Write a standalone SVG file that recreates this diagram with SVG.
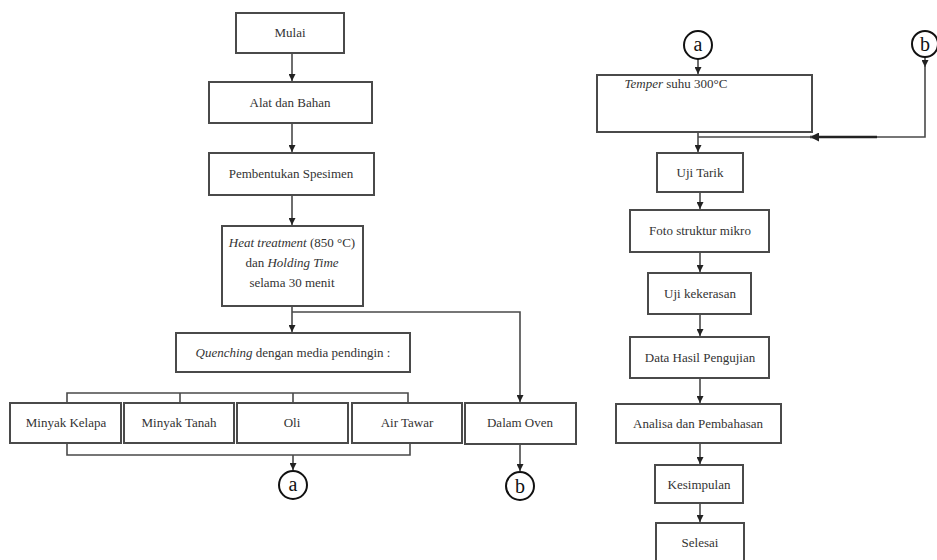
<svg xmlns="http://www.w3.org/2000/svg" width="937" height="560" viewBox="0 0 937 560">
<style>
.box{fill:#fff;stroke:#4a4a4a;stroke-width:2}
.ln{fill:none;stroke:#4a4a4a;stroke-width:1.6}
.t{font-family:"Liberation Serif","Times New Roman",serif;font-size:13px;fill:#333;text-anchor:middle}
.c{fill:#fff;stroke:#111;stroke-width:2}
.ct{font-family:"Liberation Serif","Times New Roman",serif;font-size:20px;fill:#111;text-anchor:middle}
</style>
<defs>
<marker id="ar" viewBox="0 0 10 10" refX="10" refY="5" markerWidth="7" markerHeight="7" markerUnits="userSpaceOnUse" orient="auto">
<path d="M0,0 L10,5 L0,10 z" fill="#222"/>
</marker>
<marker id="arL" viewBox="0 0 10 10" refX="10" refY="5" markerWidth="9" markerHeight="9" markerUnits="userSpaceOnUse" orient="auto">
<path d="M0,0 L10,5 L0,10 z" fill="#222"/>
</marker>
</defs>
<rect width="937" height="560" fill="#fff"/>

<g id="connectors">
<line class="ln" x1="292" y1="53" x2="292" y2="81" marker-end="url(#ar)"/>
<line class="ln" x1="292" y1="123" x2="292" y2="152" marker-end="url(#ar)"/>
<line class="ln" x1="292" y1="195" x2="292" y2="225" marker-end="url(#ar)"/>
<line class="ln" x1="292" y1="306" x2="292" y2="332" marker-end="url(#ar)"/>
<polyline class="ln" points="292,312 520,312 520,402" marker-end="url(#ar)"/>
<polyline class="ln" points="67,403 67,393 408,393 408,403"/>
<line class="ln" x1="180" y1="393" x2="180" y2="403"/>
<line class="ln" x1="293" y1="393" x2="293" y2="403"/>
<polyline class="ln" points="67,443 67,455 410,455 410,443"/>
<line class="ln" x1="293" y1="455" x2="293" y2="470" marker-end="url(#ar)"/>
<line class="ln" x1="520" y1="444" x2="520" y2="471" marker-end="url(#ar)"/>

<line class="ln" x1="698" y1="59" x2="698" y2="74" marker-end="url(#ar)"/>
<line class="ln" x1="925" y1="57" x2="925" y2="67" marker-end="url(#ar)"/>
<polyline class="ln" points="925,66 925,137 877,137"/>
<line x1="877" y1="137" x2="810" y2="137" stroke="#222" stroke-width="2.4" marker-end="url(#arL)"/>
<line class="ln" x1="812" y1="137" x2="698" y2="137"/>
<line class="ln" x1="698" y1="132" x2="698" y2="152" marker-end="url(#ar)"/>
<line class="ln" x1="700" y1="192" x2="700" y2="209" marker-end="url(#ar)"/>
<line class="ln" x1="700" y1="252" x2="700" y2="272" marker-end="url(#ar)"/>
<line class="ln" x1="700" y1="314" x2="700" y2="336" marker-end="url(#ar)"/>
<line class="ln" x1="700" y1="378" x2="700" y2="403" marker-end="url(#ar)"/>
<line class="ln" x1="700" y1="443" x2="700" y2="464" marker-end="url(#ar)"/>
<line class="ln" x1="700" y1="503" x2="700" y2="522" marker-end="url(#ar)"/>
</g>

<g id="mulai"><rect class="box" x="236" y="13" width="108" height="40"/><text class="t" x="290" y="37">Mulai</text></g>
<g id="alat"><rect class="box" x="209" y="82" width="163" height="41"/><text class="t" x="290" y="107">Alat dan Bahan</text></g>
<g id="pembentukan"><rect class="box" x="209" y="153" width="165" height="42"/><text class="t" x="291" y="178">Pembentukan Spesimen</text></g>
<g id="heat"><rect class="box" x="222" y="226" width="141" height="80"/>
<text class="t" x="292" y="247"><tspan font-style="italic">Heat treatment</tspan> (850 °C)</text>
<text class="t" x="292" y="267">dan <tspan font-style="italic">Holding Time</tspan></text>
<text class="t" x="292" y="287">selama 30 menit</text></g>
<g id="quenching"><rect class="box" x="176" y="333" width="234" height="39"/><text class="t" x="293" y="357"><tspan font-style="italic">Quenching</tspan> dengan media pendingin :</text></g>
<g id="minyak-kelapa"><rect class="box" x="10" y="403" width="111" height="40"/><text class="t" x="66" y="427">Minyak Kelapa</text></g>
<g id="minyak-tanah"><rect class="box" x="124" y="403" width="110" height="40"/><text class="t" x="179" y="427">Minyak Tanah</text></g>
<g id="oli"><rect class="box" x="237" y="403" width="111" height="40"/><text class="t" x="292" y="427">Oli</text></g>
<g id="air-tawar"><rect class="box" x="352" y="403" width="110" height="40"/><text class="t" x="407" y="427">Air Tawar</text></g>
<g id="dalam-oven"><rect class="box" x="465" y="403" width="111" height="41"/><text class="t" x="520" y="427">Dalam Oven</text></g>
<g id="a-left"><circle class="c" cx="293" cy="485" r="14"/><text class="ct" x="293" y="491">a</text></g>
<g id="b-left"><circle class="c" cx="520" cy="486" r="14"/><text class="ct" x="520" y="493">b</text></g>

<g id="a-right"><circle class="c" cx="698" cy="45" r="14"/><text class="ct" x="698" y="51">a</text></g>
<g id="b-right"><circle class="c" cx="925" cy="44" r="13"/><text class="ct" x="925" y="51">b</text></g>
<g id="temper"><rect class="box" x="597" y="75" width="215" height="57"/><text class="t" x="676" y="88"><tspan font-style="italic">Temper</tspan>  suhu 300°C</text></g>
<g id="uji-tarik"><rect class="box" x="657" y="153" width="86" height="39"/><text class="t" x="700" y="177">Uji Tarik</text></g>
<g id="foto"><rect class="box" x="630" y="210" width="139" height="42"/><text class="t" x="700" y="235">Foto struktur mikro</text></g>
<g id="uji-kekerasan"><rect class="box" x="648" y="273" width="103" height="41"/><text class="t" x="700" y="298">Uji kekerasan</text></g>
<g id="data"><rect class="box" x="630" y="337" width="139" height="41"/><text class="t" x="700" y="362">Data Hasil Pengujian</text></g>
<g id="analisa"><rect class="box" x="616" y="404" width="165" height="39"/><text class="t" x="698" y="428">Analisa dan Pembahasan</text></g>
<g id="kesimpulan"><rect class="box" x="655" y="465" width="88" height="38"/><text class="t" x="699" y="489">Kesimpulan</text></g>
<g id="selesai"><rect class="box" x="656" y="523" width="88" height="40"/><text class="t" x="700" y="547">Selesai</text></g>
</svg>
